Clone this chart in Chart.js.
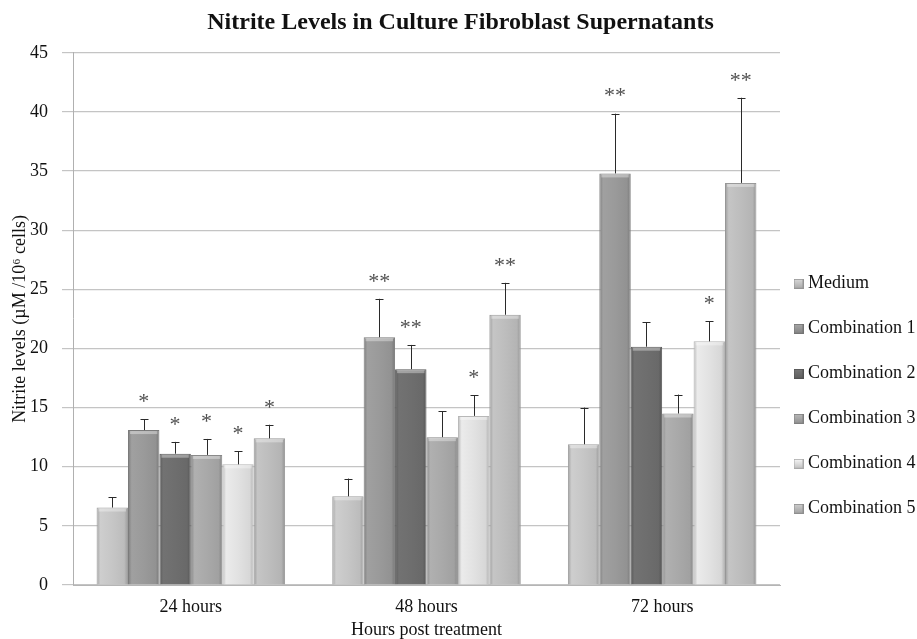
<!DOCTYPE html>
<html>
<head>
<meta charset="utf-8">
<script src="https://cdn.jsdelivr.net/npm/chart.js@4"></script>
<style>
  html, body { margin: 0; padding: 0; background: #fff; }
  #wrap { width: 917px; height: 639px; }
</style>
</head>
<body>
<div id="wrap"><canvas id="nitriteChart"></canvas></div>
<script>
// datos
const categories = ['24 hours', '48 hours', '72 hours'];
const seriesNames = ['Medium', 'Combination 1', 'Combination 2', 'Combination 3', 'Combination 4', 'Combination 5'];

const medium = [6.55, 7.5, 11.9];
const combo1 = [13.1, 20.95, 34.8];
const combo2 = [11.1, 18.25, 20.15];
const combo3 = [11.0, 12.5, 14.5];
const combo4 = [10.2, 14.3, 20.6];
const combo5 = [12.4, 22.85, 34.0];

// barras de error (solo hacia arriba)
const mediumErr = [0.85, 1.5, 3.1];
const combo1Err = [0.9, 3.25, 5.05];
const combo2Err = [1.0, 2.05, 2.05];
const combo3Err = [1.35, 2.2, 1.6];
const combo4Err = [1.1, 1.75, 1.7];
const combo5Err = [1.15, 2.7, 7.2];

// asteriscos de significancia
const mediumSig = ['', '', ''];
const combo1Sig = ['*', '**', '**'];
const combo2Sig = ['*', '**', ''];
const combo3Sig = ['*', '', ''];
const combo4Sig = ['*', '*', '*'];
const combo5Sig = ['*', '**', '**'];

const yTicks = [0, 5, 10, 15, 20, 25, 30, 35, 40, 45];

const values = [medium, combo1, combo2, combo3, combo4, combo5];
const errors = [mediumErr, combo1Err, combo2Err, combo3Err, combo4Err, combo5Err];
const sigs = [mediumSig, combo1Sig, combo2Sig, combo3Sig, combo4Sig, combo5Sig];
const baseColors = ['#c6c6c6', '#9a9a9a', '#6e6e6e', '#a9a9a9', '#e2e2e2', '#bdbdbd'];

const FONT = "'Liberation Serif', 'Times New Roman', serif";

function shade(hex, f) {
    const n = parseInt(hex.slice(1), 16);
    const c = [(n >> 16) & 255, (n >> 8) & 255, n & 255].map(v => Math.max(0, Math.min(255, Math.round(v * f))));
    return 'rgb(' + c.join(',') + ')';
}

// degradado horizontal tipo "cilindro" para cada barra
function barGradient(ctx, color) {
    const chart = ctx.chart;
    const xs = chart.scales.x;
    if (!xs || !chart.chartArea) return color;
    const catW = (xs.right - xs.left) / categories.length;
    const groupW = catW * 0.8;
    const bw = groupW / seriesNames.length;
    const c = xs.getPixelForValue(ctx.dataIndex);
    const left = c - groupW / 2 + bw * ctx.datasetIndex;
    const right = left + bw;
    const g = chart.ctx.createLinearGradient(left, 0, right, 0);
    g.addColorStop(0, shade(color, 0.82));
    g.addColorStop(0.12, shade(color, 1.04));
    g.addColorStop(0.5, color);
    g.addColorStop(0.88, shade(color, 0.95));
    g.addColorStop(1, shade(color, 0.78));
    return g;
}

const datasets = seriesNames.map((name, i) => ({
    label: name,
    data: values[i],
    errs: errors[i],
    sig: sigs[i],
    baseColor: baseColors[i],
    backgroundColor: ctx => barGradient(ctx, baseColors[i]),
    borderColor: shade(baseColors[i], 0.8),
    borderWidth: 1,
    borderSkipped: 'bottom',
    categoryPercentage: 0.8,
    barPercentage: 1.0,
}));

// plugin para barras de error y asteriscos
const errorBarsPlugin = {
    id: 'errorBars',
    afterDatasetsDraw(chart) {
        const ctx = chart.ctx;
        const y = chart.scales.y;
        chart.data.datasets.forEach((ds, di) => {
            const meta = chart.getDatasetMeta(di);
            meta.data.forEach((bar, i) => {
                const top = y.getPixelForValue(ds.data[i]);
                const errTop = y.getPixelForValue(ds.data[i] + ds.errs[i]);
                const bx = Math.round(bar.x);
                ctx.save();
                // franja clara arriba de la barra (bisel)
                ctx.fillStyle = 'rgba(255,255,255,0.35)';
                ctx.fillRect(bar.x - bar.width / 2 + 2, top + 1, bar.width - 4, 3);
                ctx.strokeStyle = '#2a2a2a';
                ctx.lineWidth = 1;
                ctx.beginPath();
                ctx.moveTo(bx + 0.5, top);
                ctx.lineTo(bx + 0.5, errTop);
                ctx.moveTo(bx - 3.5, Math.round(errTop) + 0.5);
                ctx.lineTo(bx + 4.5, Math.round(errTop) + 0.5);
                ctx.stroke();
                if (ds.sig[i]) {
                    ctx.fillStyle = '#505050';
                    ctx.font = '22px ' + FONT;
                    ctx.textAlign = 'center';
                    ctx.textBaseline = 'middle';
                    ctx.fillText(ds.sig[i], bar.x, errTop - 17);
                }
                ctx.restore();
            });
        });
    }
};

// cuadrito del legend con degradado
function legendBox(color) {
    const c = document.createElement('canvas');
    c.width = 10; c.height = 10;
    const g = c.getContext('2d');
    const gr = g.createLinearGradient(0, 0, 0, 10);
    gr.addColorStop(0, shade(color, 1.1));
    gr.addColorStop(1, shade(color, 0.85));
    g.fillStyle = shade(color, 0.75);
    g.fillRect(0, 0, 10, 10);
    g.fillStyle = gr;
    g.fillRect(1, 1, 8, 8);
    return c;
}

document.addEventListener('DOMContentLoaded', () => {
    const boxes = baseColors.map(legendBox);

    new Chart(document.getElementById('nitriteChart'), {
        type: 'bar',
        data: {
            labels: categories,
            datasets: datasets,
        },
        options: {
            responsive: true,
            maintainAspectRatio: false,
            animation: false,
            layout: { padding: { left: 4, right: 0, top: 0, bottom: 0 } },
            plugins: {
                title: {
                    display: true,
                    text: 'Nitrite Levels in Culture Fibroblast Supernatants',
                    color: '#111',
                    font: { family: FONT, size: 24, weight: 'bold' },
                    padding: { top: 8, bottom: 16 },
                },
                legend: {
                    position: 'right',
                    maxWidth: 137,
                    title: { display: true, text: '', padding: { top: 148 } },
                    labels: {
                        color: '#111',
                        font: { family: FONT, size: 18, lineHeight: 1.5 },
                        usePointStyle: true,
                        boxWidth: 1,
                        generateLabels: chart => chart.data.datasets.map((ds, i) => ({
                            text: [ds.label],
                            fontColor: '#111',
                            pointStyle: boxes[i],
                            fillStyle: ds.baseColor,
                            strokeStyle: ds.baseColor,
                            lineWidth: 0,
                            hidden: false,
                            datasetIndex: i,
                        })),
                        padding: 18,
                    },
                },
                tooltip: { enabled: false },
            },
            scales: {
                x: {
                    afterFit: axis => { axis.height = 54; },
                    grid: { display: false, drawTicks: false },
                    border: { display: true, color: '#b5b5b5' },
                    ticks: { color: '#111', font: { family: FONT, size: 18, lineHeight: 1.0 }, padding: 13 },
                    title: {
                        display: true,
                        text: 'Hours post treatment',
                        color: '#111',
                        font: { family: FONT, size: 18, lineHeight: 1.0 },
                        padding: { top: 5, bottom: 0 },
                    },
                },
                y: {
                    min: 0,
                    max: 45,
                    afterFit: axis => { axis.width = 69; },
                    afterBuildTicks: axis => { axis.ticks = yTicks.map(v => ({ value: v })); },
                    grid: { color: '#c4c4c4', tickLength: 11, lineWidth: 1.2 },
                    border: { display: true, color: '#b0b0b0' },
                    ticks: { color: '#111', font: { family: FONT, size: 18 }, padding: 14 },
                    title: {
                        display: true,
                        text: 'Nitrite levels (µM /10⁶ cells)',
                        color: '#111',
                        font: { family: FONT, size: 18 },
                        padding: { top: 5, bottom: 1 },
                    },
                },
            },
        },
        plugins: [errorBarsPlugin],
    });
});
</script>
</body>
</html>
